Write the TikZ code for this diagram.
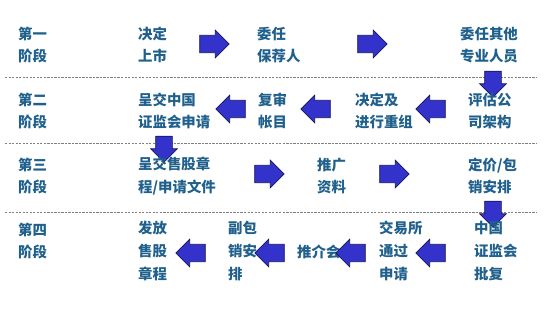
\documentclass[tikz,border=0pt]{standalone}
\usepackage{fontspec}
\newfontfamily\cjk{Noto Sans CJK SC}
\usetikzlibrary{shapes.arrows}
\definecolor{txtblue}{RGB}{32,96,140}
\definecolor{arrfill}{RGB}{51,51,204}
\definecolor{arrline}{RGB}{20,20,90}
\tikzset{
  lbl/.style={anchor=west, align=left, inner sep=0pt, text=txtblue,
    font=\cjk\bfseries\fontsize{12.3}{19.4}\selectfont},
  blk/.style={single arrow, draw=arrline, fill=arrfill, line width=0.6pt,
    minimum height=0.88cm, inner xsep=0pt, inner ysep=0.25cm,
    single arrow head extend=0.15cm, single arrow head indent=0cm},
  rarr/.style={blk},
  larr/.style={blk, shape border rotate=180},
  darr/.style={blk, shape border rotate=270, minimum height=0.78cm,
    inner ysep=0pt, inner xsep=0.24cm},
  sep/.style={gray, line width=0.4pt, dash pattern=on 2pt off 1pt}
}
\begin{document}
\begin{tikzpicture}[x=0.03cm,y=-0.03cm]

    \useasboundingbox (0,0) rectangle (554,311);

    % Separators
    \draw[sep] (5,77) -- (537,77);
    \draw[sep] (5,143) -- (537,143);
    \draw[sep] (5,212) -- (537,212);

    % Stage 1
    \node[lbl] (s1) at (18,45) {第一\\阶段};
    \node[lbl] (a1) at (138,45) {决定\\上市};
    \node[lbl] (a2) at (257,45) {委任\\保荐人};
    \node[lbl] (a3) at (460,45) {委任其他\\专业人员};
    \node[rarr] (r11) at (210,44) {};
    \node[rarr] (r12) at (368,44) {};
    \node[darr] (d1) at (493,80) {};

    % Stage 2
    \node[lbl] (s2) at (18,111) {第二\\阶段};
    \node[lbl] (b1) at (138,111) {呈交中国\\证监会申请};
    \node[lbl] (b2) at (258,111) {复审\\帐目};
    \node[lbl] (b3) at (355,111) {决定及\\进行重组};
    \node[lbl] (b4) at (468,111) {评估公\\司架构};
    \node[larr] (l21) at (235,109) {};
    \node[larr] (l22) at (320,109) {};
    \node[larr] (l23) at (435,109) {};
    \node[darr] (d2) at (164,145) {};

    % Stage 3
    \node[lbl] (s3) at (18,176) {第三\\阶段};
    \node[lbl] (c1) at (138,176) {呈交售股章\\程/申请文件};
    \node[lbl] (c2) at (317,176) {推广\\资料};
    \node[lbl] (c3) at (468,176) {定价/包\\销安排};
    \node[rarr] (r31) at (265,174) {};
    \node[rarr] (r32) at (390,174) {};
    \node[darr] (d3) at (493,210) {};

    % Stage 4
    \node[lbl] (s4) at (18,241) {第四\\阶段};
    \node[lbl] (e1) at (138,251) {发放\\售股\\章程};
    \node[lbl] (e2) at (228,251) {副包\\销安\\排};
    \node[lbl] (e3) at (297,252) {推介会};
    \node[lbl] (e4) at (379,251) {交易所\\通过\\申请};
    \node[lbl] (e5) at (474,251) {中国\\证监会\\批复};
    \node[larr] (l41) at (195,253) {};
    \node[larr] (l42) at (274,253) {};
    \node[larr] (l43) at (355,253) {};
    \node[larr] (l44) at (435,253) {};

\end{tikzpicture}
\end{document}
